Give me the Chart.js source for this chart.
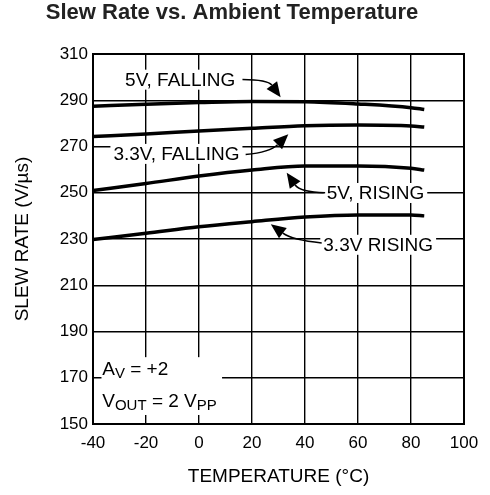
<!DOCTYPE html>
<html>
<head>
<meta charset="utf-8">
<script src="https://cdn.jsdelivr.net/npm/chart.js@4.4.1/dist/chart.umd.min.js"></script>
<style>
  body { margin: 0; background: #fff; }
  canvas { display: block; }
</style>
</head>
<body>
<canvas id="slewChart" width="490" height="495"></canvas>
<script>
// temperature points (°C) and slew rate readings (V/us)
const temps = [-40, -20, 0, 20, 40, 60, 80, 85];
const fall5V = [287.4, 288.3, 289.0, 289.5, 289.4, 288.4, 286.8, 286.0];
const fall33V = [274.3, 275.4, 276.7, 277.9, 279.0, 279.3, 278.9, 278.4];
const rise5V = [251.0, 254.0, 257.2, 259.8, 261.6, 261.6, 260.6, 259.8];
const rise33V = [229.8, 232.5, 235.3, 237.5, 239.5, 240.4, 240.4, 240.0];

const xTicks = [-40, -20, 0, 20, 40, 60, 80, 100];
const yTicks = [150, 170, 190, 210, 230, 250, 270, 290, 310];

const FONT = "'Liberation Sans', Arial, sans-serif";

function toPoints(vals) {
    return temps.map((t, i) => ({ x: t, y: vals[i] }));
}

// callouts, placed in data units
const callouts = [
    { text: "5V, FALLING", x: -27.9, y: 298.9, from: [16.4, 299.0], ctrl: [26.0, 298.9], to: [30.8, 291.3] },
    { text: "3.3V, FALLING", x: -32.3, y: 266.8, from: [17.6, 266.5], ctrl: [26.8, 267.6], to: [33.7, 275.3] },
    { text: "5V, RISING", x: 48.2, y: 249.9, from: [47.6, 250.0], ctrl: [38.1, 250.3], to: [33.1, 258.7] },
    { text: "3.3V RISING", x: 46.9, y: 227.5, from: [46.3, 228.3], ctrl: [35.1, 229.6], to: [27.1, 236.4] }
];

function drawRich(ctx, parts, x, y) {
    parts.forEach(p => {
        const size = p.sub ? 15 : 19;
        ctx.font = size + "px " + FONT;
        ctx.fillText(p.t, x, p.sub ? y + 4 : y);
        x += ctx.measureText(p.t).width;
    });
}

const calloutPlugin = {
    id: "callouts",
    beforeDatasetsDraw(chart) {
        const ctx = chart.ctx;
        const xs = chart.scales.x, ys = chart.scales.y;
        const px = v => xs.getPixelForValue(v);
        const py = v => ys.getPixelForValue(v);
        ctx.save();
        ctx.textBaseline = "middle";
        ctx.font = "19px " + FONT;

        callouts.forEach(c => {
            const w = ctx.measureText(c.text).width;
            const x0 = px(c.x), y0 = py(c.y);
            ctx.fillStyle = "#fff";
            ctx.fillRect(x0 - 3, y0 - 10, w + 6, 20);
            ctx.fillStyle = "#000";
            ctx.fillText(c.text, x0, y0 + 1);

            // curved arrow
            const sx = px(c.from[0]), sy = py(c.from[1]);
            const cx = px(c.ctrl[0]), cy = py(c.ctrl[1]);
            const tx = px(c.to[0]), ty = py(c.to[1]);
            const ang = Math.atan2(ty - cy, tx - cx);
            const headLen = 15, headW = 6.5;
            const bx = tx - headLen * Math.cos(ang), by = ty - headLen * Math.sin(ang);
            ctx.strokeStyle = "#000";
            ctx.lineWidth = 1.5;
            ctx.beginPath();
            ctx.moveTo(sx, sy);
            ctx.quadraticCurveTo(cx, cy, bx, by);
            ctx.stroke();
            ctx.beginPath();
            ctx.moveTo(tx, ty);
            ctx.lineTo(bx + headW * Math.sin(ang), by - headW * Math.cos(ang));
            ctx.lineTo(bx - headW * Math.sin(ang), by + headW * Math.cos(ang));
            ctx.closePath();
            ctx.fillStyle = "#000";
            ctx.fill();
        });

        // test conditions box
        ctx.fillStyle = "#fff";
        ctx.fillRect(px(-36.8), py(178.9), px(8.7) - px(-36.8), py(153.9) - py(178.9));
        ctx.fillStyle = "#000";
        drawRich(ctx, [{ t: "A" }, { t: "V", sub: true }, { t: " = +2" }], px(-36.5), py(173.4));
        drawRich(ctx, [{ t: "V" }, { t: "OUT", sub: true }, { t: " = 2 V" }, { t: "PP", sub: true }], px(-36.5), py(159.5));

        // frame
        const a = chart.chartArea;
        ctx.strokeStyle = "#000";
        ctx.lineWidth = 2;
        ctx.strokeRect(a.left, a.top, a.right - a.left, a.bottom - a.top);
        ctx.restore();
    }
};

const lineStyle = {
    borderColor: "#000",
    borderWidth: 3.5,
    pointRadius: 0,
    fill: false,
    cubicInterpolationMode: "monotone"
};

new Chart(document.getElementById("slewChart"), {
    type: "line",
    data: {
        datasets: [
            { label: "5V, FALLING", data: toPoints(fall5V), ...lineStyle },
            { label: "3.3V, FALLING", data: toPoints(fall33V), ...lineStyle },
            { label: "5V, RISING", data: toPoints(rise5V), ...lineStyle },
            { label: "3.3V RISING", data: toPoints(rise33V), ...lineStyle }
        ]
    },
    options: {
        responsive: false,
        devicePixelRatio: 1,
        animation: false,
        layout: { padding: { left: 0, right: 26, top: 0, bottom: 0 } },
        plugins: {
            legend: { display: false },
            tooltip: { enabled: false },
            title: {
                display: true,
                text: "Slew Rate vs. Ambient Temperature",
                color: "#222",
                font: { family: FONT, size: 22, weight: "bold" },
                padding: { top: 0, bottom: 27.6 }
            }
        },
        scales: {
            x: {
                type: "linear",
                min: xTicks[0],
                max: xTicks[xTicks.length - 1],
                afterBuildTicks: s => { s.ticks = xTicks.map(v => ({ value: v })); },
                afterFit: s => { s.height = 71; },
                grid: { color: "#000", lineWidth: 1.4, drawTicks: false },
                border: { color: "#000", width: 2 },
                ticks: { color: "#000", padding: 9, font: { family: FONT, size: 17 } },
                title: {
                    display: true,
                    text: "TEMPERATURE (°C)",
                    color: "#000",
                    font: { family: FONT, size: 19 },
                    padding: { top: 0, bottom: 7 }
                }
            },
            y: {
                min: yTicks[0],
                max: yTicks[yTicks.length - 1],
                afterBuildTicks: s => { s.ticks = yTicks.map(v => ({ value: v })); },
                afterFit: s => { s.width = 93; },
                grid: { color: "#000", lineWidth: 1.4, drawTicks: false },
                border: { color: "#000", width: 2 },
                ticks: { color: "#000", padding: 5, font: { family: FONT, size: 17 } },
                title: {
                    display: true,
                    text: "SLEW RATE (V/µs)",
                    color: "#000",
                    font: { family: FONT, size: 19 },
                    padding: { top: 11, bottom: 0 }
                }
            }
        }
    },
    plugins: [calloutPlugin]
});
</script>
</body>
</html>
